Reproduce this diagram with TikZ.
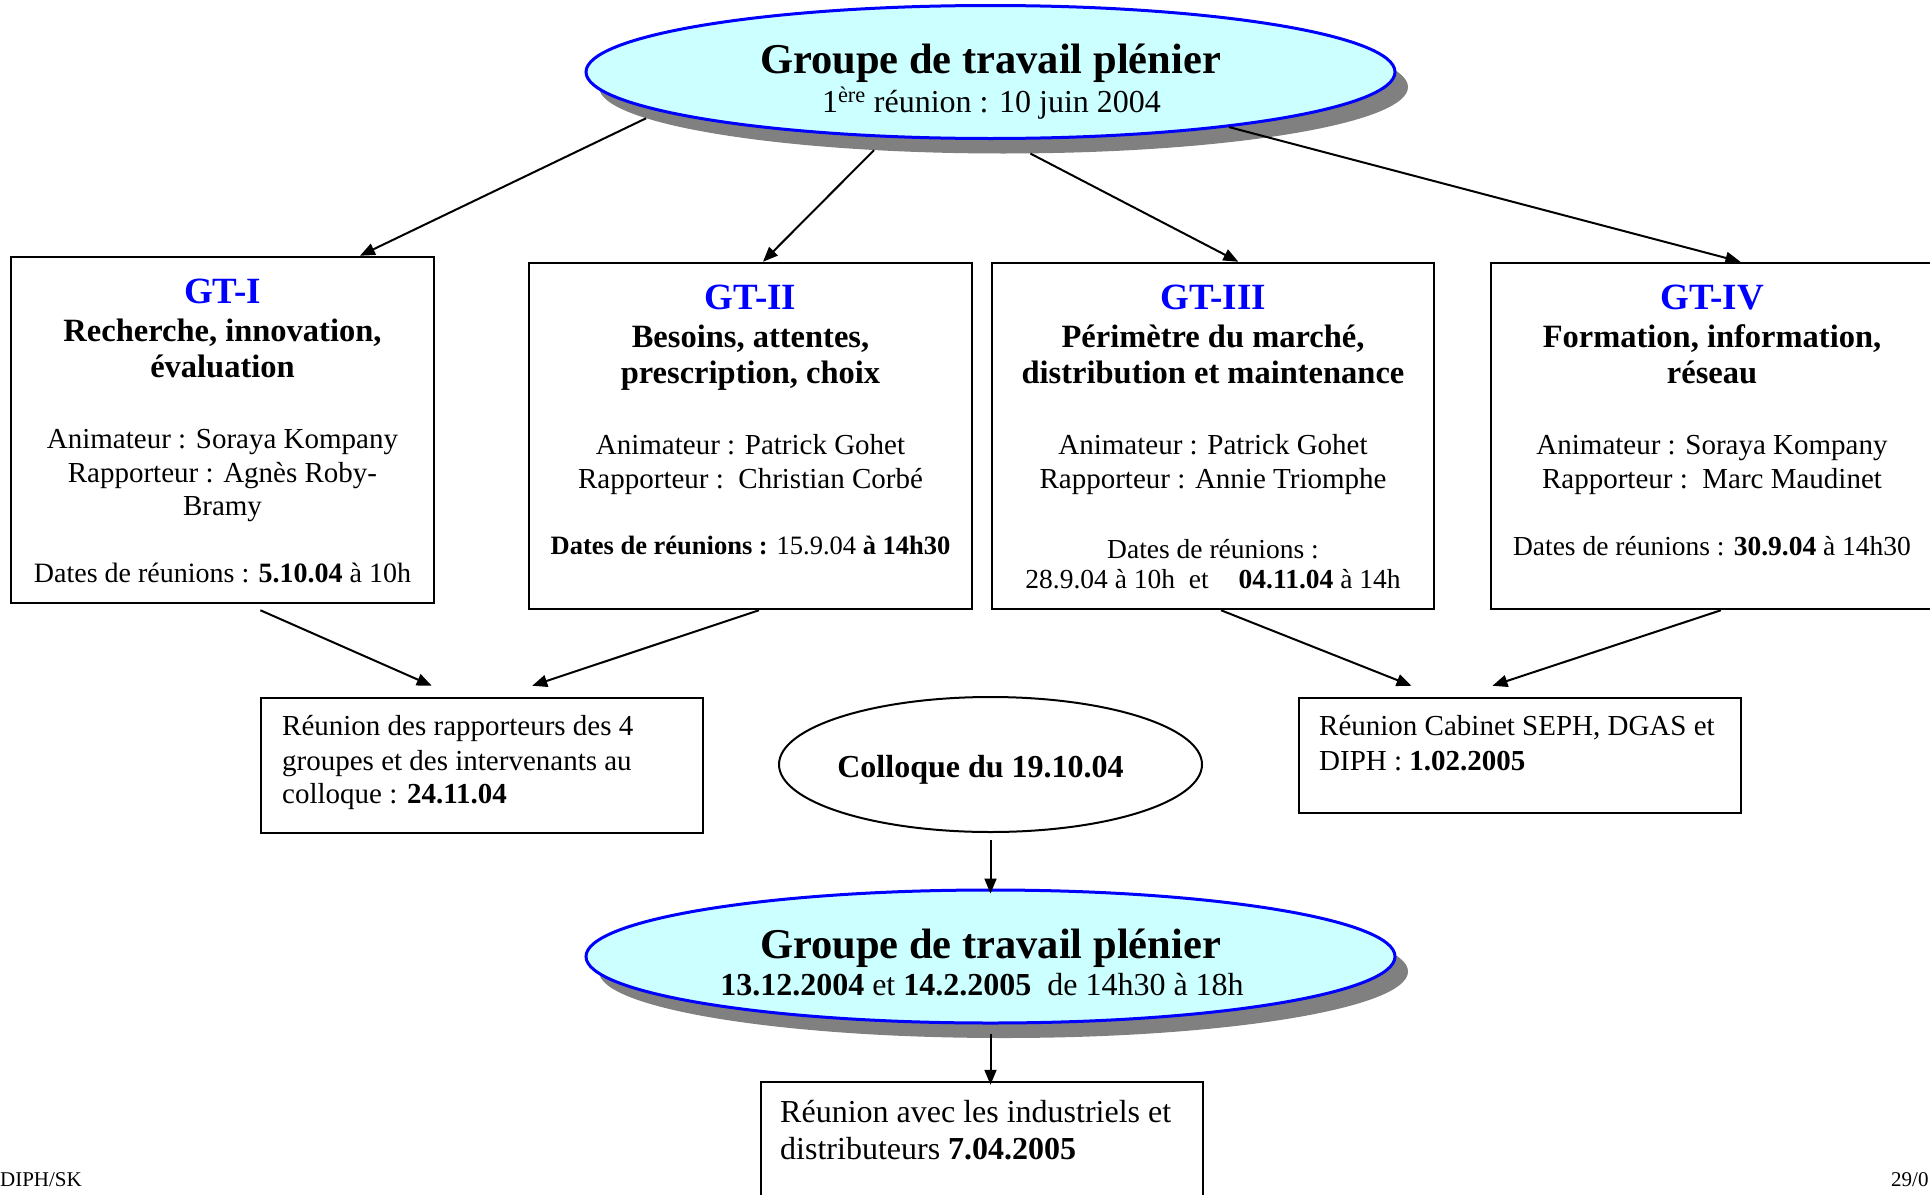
\documentclass[tikz,border=0pt]{standalone}
\usepackage{fontspec}
\setmainfont{Liberation Serif}
\usetikzlibrary{shapes.geometric,arrows.meta,calc}
\definecolor{cyanfill}{HTML}{CCFFFF}
\definecolor{shgray}{HTML}{808080}
\definecolor{pureblue}{HTML}{0000FF}
\newcommand\myfs[2]{\fontsize{#1}{#2}\selectfont}
\begin{document}
\begin{tikzpicture}[x=1pt,y=-1pt,
  txt/.style={inner sep=0pt, anchor=base},
  txl/.style={inner sep=0pt, anchor=base west},
  gtbox/.style={draw, line width=2.5pt, minimum height=346pt, inner sep=0pt},
  midbox/.style={draw, line width=2.5pt, inner sep=0pt},
  plen/.style={ellipse, draw=pureblue, fill=cyanfill, line width=3pt, minimum width=809pt, minimum height=133pt, inner sep=0pt},
  shad/.style={ellipse, fill=shgray, minimum width=809pt, minimum height=133pt, inner sep=0pt},
  arr/.style={line width=2pt, -{Triangle[length=15pt,width=12pt]}},
  gtt/.style={txt, font=\myfs{37}{44}\bfseries, text=pureblue},
  sub/.style={txt, font=\myfs{32.5}{38}\bfseries},
  nrm/.style={txt, font=\myfs{29}{34}},
  dat/.style={txt, font=\myfs{27.5}{32}},
  nrml/.style={txl, font=\myfs{29}{34}},
  big/.style={txt, font=\myfs{42.5}{48}\bfseries},
  med/.style={txt, font=\myfs{32}{38}},
  medl/.style={txl, font=\myfs{32}{38}},
  foot/.style={inner sep=0pt, font=\myfs{21}{25}}]

\fill[white] (0,0) rectangle (1930,1194);
\useasboundingbox (0,0) rectangle (1930,1194);

% top plenary ellipse
\node[shad] (topsh) at (1003.5,87) {};
\node[plen] (top) at (990.5,72) {};
\node[big] (t1) at (990.5,73) {Groupe de travail plénier};
\node[med] (t2) at (991.5,112) {1\textsuperscript{ère} réunion : 10 juin 2004};

% GT boxes
\node[gtbox, minimum width=423pt] (gt1) at (222.5,430) {};
\node[gtbox, minimum width=443pt] (gt2) at (750.5,436) {};
\node[gtbox, minimum width=442pt] (gt3) at (1213,436) {};
\node[gtbox, minimum width=442pt] (gt4) at (1712,436) {};

\node[gtt] (g1a) at (222.5,303) {GT-I};
\node[sub] (g1b) at (222.5,341) {Recherche, innovation,};
\node[sub] (g1c) at (222.5,377) {évaluation};
\node[nrm] (g1d) at (222.5,448) {Animateur : Soraya Kompany};
\node[nrm] (g1e) at (222.5,482) {Rapporteur : Agnès Roby-};
\node[nrm] (g1f) at (222.5,515) {Bramy};
\node[dat, font=\myfs{28}{32}] (g1g) at (222.5,582) {Dates de réunions : \textbf{5.10.04} à 10h};

\node[gtt] (g2a) at (750.5,309) {GT-II};
\node[sub] (g2b) at (750.5,347) {Besoins, attentes,};
\node[sub] (g2c) at (750.5,383) {prescription, choix};
\node[nrm] (g2d) at (750.5,454) {Animateur : Patrick Gohet};
\node[nrm] (g2e) at (750.5,488) {Rapporteur :\ \ Christian Corbé};
\node[dat, font=\myfs{26.5}{32}] (g2f) at (750.5,554) {\textbf{Dates de réunions :} 15.9.04 \textbf{à 14h30}};

\node[gtt] (g3a) at (1213,309) {GT-III};
\node[sub] (g3b) at (1213,347) {Périmètre du marché,};
\node[sub] (g3c) at (1213,383) {distribution et maintenance};
\node[nrm] (g3d) at (1213,454) {Animateur : Patrick Gohet};
\node[nrm] (g3e) at (1213,488) {Rapporteur : Annie Triomphe};
\node[dat] (g3f) at (1213,558) {Dates de réunions :};
\node[dat] (g3g) at (1213,588) {28.9.04 à 10h\ \ et\hspace{30pt}\textbf{04.11.04} à 14h};

\node[gtt] (g4a) at (1712,309) {GT-IV};
\node[sub] (g4b) at (1712,347) {Formation, information,};
\node[sub] (g4c) at (1712,383) {réseau};
\node[nrm] (g4d) at (1712,454) {Animateur : Soraya Kompany};
\node[nrm] (g4e) at (1712,488) {Rapporteur :\ \ Marc Maudinet};
\node[dat] (g4f) at (1712,555) {Dates de réunions : \textbf{30.9.04} à 14h30};

% middle row
\node[midbox, minimum width=442pt, minimum height=135pt] (rap) at (482,765.5) {};
\node[nrml] (r1) at (282,735) {Réunion des rapporteurs des 4};
\node[nrml] (r2) at (282,770) {groupes et des intervenants au};
\node[nrml] (r3) at (282,803) {colloque : \textbf{24.11.04}};

\node[ellipse, draw, line width=2pt, minimum width=423pt, minimum height=135pt, inner sep=0pt] (coll) at (990.5,764.5) {};
\node[txt, font=\myfs{32}{38}\bfseries] (c1) at (980.5,777) {Colloque du 19.10.04};

\node[midbox, minimum width=442pt, minimum height=115pt] (seph) at (1520,755.5) {};
\node[nrml] (s1) at (1319,735) {Réunion Cabinet SEPH, DGAS et};
\node[nrml] (s2) at (1319,770) {DIPH : \textbf{1.02.2005}};

% bottom plenary ellipse
\node[shad] (botsh) at (1003.5,971.5) {};
\node[plen] (bot) at (990.5,956.5) {};
\node[big] (b1) at (990.5,958) {Groupe de travail plénier};
\node[med] (b2) at (982,995) {\textbf{13.12.2004} et \textbf{14.2.2005}\ \ de 14h30 à 18h};

% last box
\node[midbox, minimum width=442pt, minimum height=124pt] (last) at (982,1144) {};
\node[medl] (l1) at (780,1122) {Réunion avec les industriels et};
\node[medl] (l2) at (780,1159) {distributeurs \textbf{7.04.2005}};

% footer
\node[foot, anchor=base east] (f1) at (82,1186) {DIPH/SK};
\node[foot, anchor=base west] (f2) at (1891,1186) {29/0};

% arrows
\draw[arr] (topsh.185) -- ($(gt1.north west)!0.823!(gt1.north east)$);
\draw[arr] (topsh.206.7) -- ($(gt2.north west)!0.528!(gt2.north east)$);
\draw[arr] (topsh.292) -- ($(gt3.north west)!0.557!(gt3.north east)$);
\draw[arr] (top.347.4) -- ($(gt4.north west)!0.564!(gt4.north east)$);

\draw[arr] ($(gt1.south west)!0.589!(gt1.south east)+(0,6)$) -- ($(rap.north west)!0.387!(rap.north east)+(0,-11)$);
\draw[arr] ($(gt2.south west)!0.519!(gt2.south east)$) -- ($(rap.north west)!0.613!(rap.north east)+(0,-11)$);
\draw[arr] ($(gt3.south west)!0.518!(gt3.south east)$) -- ($(seph.north west)!0.256!(seph.north east)+(0,-11)$);
\draw[arr] ($(gt4.south west)!0.52!(gt4.south east)$) -- ($(seph.north west)!0.438!(seph.north east)+(0,-11)$);

\draw[arr] ($(coll.south)+(0,7)$) -- ($(bot.north)+(0,5)$);
\draw[arr] ($(bot.south)+(0,9)$) -- ($(bot.south |- last.north)+(0,4)$);
\end{tikzpicture}
\end{document}
